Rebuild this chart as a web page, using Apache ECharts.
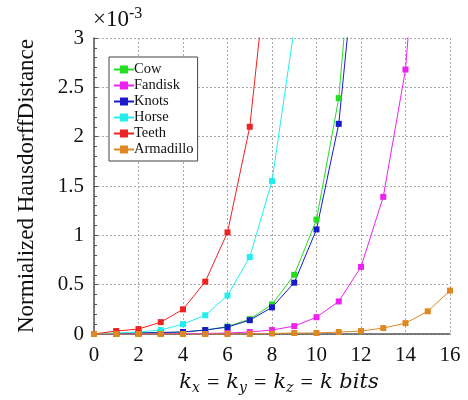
<!DOCTYPE html>
<html>
<head>
<meta charset="utf-8">
<script src="https://cdn.jsdelivr.net/npm/echarts@6/dist/echarts.min.js"></script>
<style>
  html, body { margin: 0; padding: 0; background: #fff; }
  #main { width: 468px; height: 400px; }
</style>
</head>
<body>
<div id="main"></div>
<script>
// k bits on the x axis
var kBits = [0, 1, 2, 3, 4, 5, 6, 7, 8, 9, 10, 11, 12, 13, 14, 15, 16];
var names = ['Cow', 'Fandisk', 'Knots', 'Horse', 'Teeth', 'Armadillo'];
// distances in units of 1e-3 (points after the first off-chart one are left out)
var cow = [0, 0.005, 0.01, 0.015, 0.02, 0.04, 0.075, 0.15, 0.30, 0.60, 1.16, 2.39, 5.0];
var fandisk = [0, 0, 0, 0, 0.005, 0.005, 0.01, 0.02, 0.04, 0.08, 0.17, 0.33, 0.68, 1.39, 2.68, 5.5];
var knots = [0, 0.005, 0.01, 0.015, 0.02, 0.04, 0.07, 0.14, 0.27, 0.52, 1.06, 2.13, 4.4];
var horse = [0, 0.01, 0.02, 0.04, 0.10, 0.19, 0.39, 0.78, 1.55, 3.1];
var teeth = [0, 0.03, 0.05, 0.12, 0.25, 0.53, 1.03, 2.1, 4.2];
var armadillo = [0, 0, 0, 0, 0, 0, 0, 0, 0.005, 0.01, 0.01, 0.02, 0.03, 0.06, 0.11, 0.23, 0.44];
var colors = ['#22dd22', '#ee22ee', '#1a1acc', '#22eeee', '#ee2222', '#dd8822'];

var allData = [cow, fandisk, knots, horse, teeth, armadillo];
var serif = 'Liberation Serif';
var mathFont = 'DejaVu Serif';

function pairs(arr) {
  return arr.map(function (v, i) { return [kBits[i], v]; });
}

var chart = echarts.init(document.getElementById('main'));

var series = names.map(function (n, i) {
  return {
    name: n,
    type: 'line',
    data: pairs(allData[i]),
    symbol: 'rect',
    symbolSize: 6,
    clip: true,
    lineStyle: { width: 1, color: colors[i] },
    itemStyle: { color: colors[i] }
  };
});

var option = {
  backgroundColor: '#fff',
  color: colors,
  animation: false,
  title: {
    text: '{a|×10}{b|-3}',
    left: 88,
    top: 1,
    textStyle: {
      fontWeight: 'normal',
      rich: {
        a: { fontFamily: serif, fontSize: 23, color: '#111' },
        b: { fontFamily: serif, fontSize: 16, color: '#111', padding: [0, 0, 12, 0] }
      }
    }
  },
  legend: {
    orient: 'vertical',
    left: 109,
    top: 57,
    padding: [5, 4, 4, 4],
    itemWidth: 20,
    itemHeight: 10,
    itemGap: 1,
    backgroundColor: '#fff',
    borderColor: '#444',
    borderWidth: 1,
    textStyle: { fontFamily: serif, fontSize: 14.5, color: '#111', padding: [0, 0, 0, -5] },
    data: names
  },
  grid: { left: 94, right: 18, top: 38, bottom: 63 },
  xAxis: {
    type: 'value',
    min: 0,
    max: 16,
    interval: 2,
    name: '{p|}{i|k}{s|x}{n|=}{i|k}{s|y}{n|=}{i|k}{s|z}{n|=}{i|k bits}',
    nameLocation: 'middle',
    nameGap: 37,
    nameTextStyle: {
      rich: {
        p: { width: 14 },
        i: { fontFamily: mathFont, fontSize: 21, fontStyle: 'italic', color: '#111' },
        n: { fontFamily: serif, fontSize: 22, color: '#111', padding: [0, 7, 0, 7] },
        s: { fontFamily: mathFont, fontSize: 14, fontStyle: 'italic', color: '#111', padding: [10, 0, 0, 0] }
      }
    },
    axisLine: { lineStyle: { color: '#555', width: 1.5 } },
    axisTick: { show: false },
    axisLabel: { fontFamily: serif, fontSize: 21, color: '#111', margin: 11 },
    splitLine: { lineStyle: { color: '#aaa', type: [2, 2] } }
  },
  yAxis: {
    type: 'value',
    min: 0,
    max: 3,
    interval: 0.5,
    name: 'Normialized HausdorffDistance',
    nameLocation: 'middle',
    nameGap: 56,
    nameTextStyle: { fontFamily: serif, fontSize: 23, color: '#111' },
    axisLine: { show: true, lineStyle: { color: '#555', width: 1.5 } },
    axisTick: { show: true, inside: true, length: 4, lineStyle: { color: '#555' } },
    minorTick: { show: true, splitNumber: 5, length: 3, lineStyle: { color: '#555' } },
    axisLabel: { fontFamily: serif, fontSize: 21, color: '#111', margin: 10 },
    splitLine: { lineStyle: { color: '#aaa', type: [2, 2] } }
  },
  series: series
};

chart.setOption(option);
</script>
</body>
</html>
